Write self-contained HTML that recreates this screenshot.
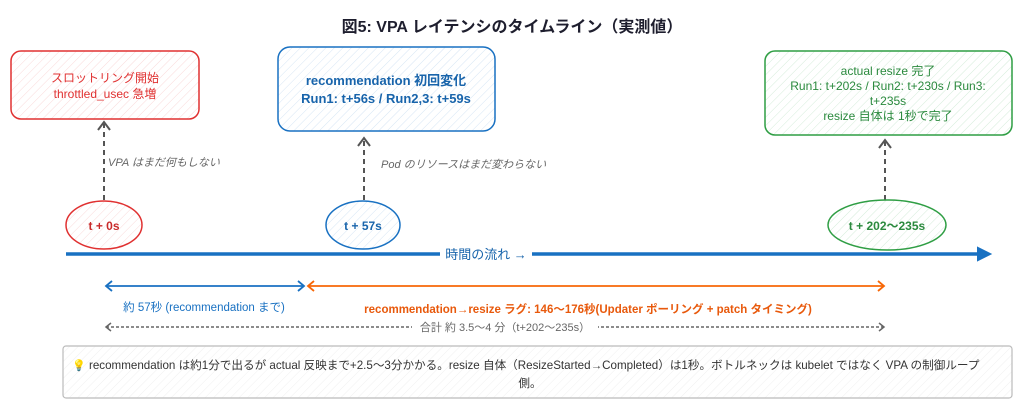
<!DOCTYPE html>
<html><head><meta charset="utf-8"><style>
body{margin:0;background:#fff;}
svg{display:block;font-family:"Liberation Sans","Noto Sans CJK JP",sans-serif;}
</style></head><body>
<svg width="1024" height="408" viewBox="0 0 1024 408" xmlns="http://www.w3.org/2000/svg">
<defs>
<pattern id="hr" width="6" height="6" patternUnits="userSpaceOnUse" patternTransform="rotate(45)"><line x1="0" y1="0" x2="0" y2="6" stroke="#e03131" stroke-opacity="0.18" stroke-width="1"/></pattern>
<pattern id="hb" width="6" height="6" patternUnits="userSpaceOnUse" patternTransform="rotate(45)"><line x1="0" y1="0" x2="0" y2="6" stroke="#1971c2" stroke-opacity="0.18" stroke-width="1"/></pattern>
<pattern id="hg" width="6" height="6" patternUnits="userSpaceOnUse" patternTransform="rotate(45)"><line x1="0" y1="0" x2="0" y2="6" stroke="#2f9e44" stroke-opacity="0.2" stroke-width="1"/></pattern>
<pattern id="hy" width="6" height="6" patternUnits="userSpaceOnUse" patternTransform="rotate(45)"><line x1="0" y1="0" x2="0" y2="6" stroke="#999" stroke-opacity="0.15" stroke-width="1"/></pattern>
</defs>
<text x="512" y="32" text-anchor="middle" font-size="16" font-weight="bold" fill="#1e1e2e">図5: VPA レイテンシのタイムライン（実測値）</text>

<rect x="11" y="51" width="188" height="68" rx="10" fill="url(#hr)" stroke="#e03131" stroke-width="1.5"/>
<text x="105" y="82" text-anchor="middle" font-size="12" fill="#e03131">スロットリング開始</text>
<text x="105" y="98" text-anchor="middle" font-size="12" fill="#e03131">throttled_usec 急増</text>

<rect x="278" y="47" width="217" height="84" rx="12" fill="url(#hb)" stroke="#1971c2" stroke-width="1.5"/>
<text x="386" y="85" text-anchor="middle" font-size="13" font-weight="bold" fill="#1864ab">recommendation 初回変化</text>
<text x="386" y="103" text-anchor="middle" font-size="13" font-weight="bold" fill="#1864ab">Run1: t+56s / Run2,3: t+59s</text>

<rect x="765" y="51" width="247" height="84" rx="10" fill="url(#hg)" stroke="#2f9e44" stroke-width="1.5"/>
<g font-size="12" fill="#2b8a3e" text-anchor="middle">
<text x="888" y="75">actual resize 完了</text>
<text x="888" y="90">Run1: t+202s / Run2: t+230s / Run3:</text>
<text x="888" y="105">t+235s</text>
<text x="888" y="120">resize 自体は 1秒で完了</text>
</g>

<g stroke="#555" stroke-width="2" stroke-dasharray="5,4" fill="none">
<line x1="104" y1="200" x2="104" y2="124"/>
<line x1="364" y1="200" x2="364" y2="140"/>
<line x1="885" y1="200" x2="885" y2="142"/>
</g>
<g stroke="#555" stroke-width="2" fill="none">
<polyline points="98,130 104,122 110,130"/>
<polyline points="358,146 364,138 370,146"/>
<polyline points="879,148 885,140 891,148"/>
</g>
<text x="108" y="166" font-size="11" font-style="italic" fill="#666">VPA はまだ何もしない</text>
<text x="381" y="168" font-size="11" font-style="italic" fill="#666">Pod のリソースはまだ変わらない</text>

<ellipse cx="104" cy="225" rx="38" ry="24" fill="url(#hr)" stroke="#e03131" stroke-width="1.5"/>
<text x="104" y="230" text-anchor="middle" font-size="12" font-weight="bold" fill="#c92a2a">t + 0s</text>
<ellipse cx="363" cy="225" rx="37" ry="24" fill="url(#hb)" stroke="#1971c2" stroke-width="1.5"/>
<text x="363" y="230" text-anchor="middle" font-size="12" font-weight="bold" fill="#1864ab">t + 57s</text>
<ellipse cx="887" cy="225" rx="59" ry="25" fill="url(#hg)" stroke="#2f9e44" stroke-width="1.5"/>
<text x="887" y="230" text-anchor="middle" font-size="12" font-weight="bold" fill="#2b8a3e">t + 202〜235s</text>

<line x1="66" y1="254" x2="982" y2="254" stroke="#1971c2" stroke-width="3.5"/>
<polygon points="978,248 990,254 978,260" fill="#1971c2" stroke="#1971c2" stroke-width="2"/>
<rect x="440" y="245" width="92" height="18" fill="#fff"/>
<text x="486" y="259" text-anchor="middle" font-size="13" fill="#1864ab">時間の流れ →</text>

<g stroke="#1971c2" stroke-width="1.8" fill="none">
<line x1="106" y1="286" x2="304" y2="286"/>
<polyline points="112,281 106,286 112,291"/><polyline points="298,281 304,286 298,291"/>
</g>
<g stroke="#f76707" stroke-width="1.8" fill="none">
<line x1="308" y1="286" x2="884" y2="286"/>
<polyline points="314,281 308,286 314,291"/><polyline points="878,281 884,286 878,291"/>
</g>
<text x="204" y="311" text-anchor="middle" font-size="11.5" fill="#1971c2">約 57秒 (recommendation まで)</text>
<text x="588" y="313" text-anchor="middle" font-size="11.5" font-weight="bold" fill="#e8590c">recommendation→resize ラグ: 146〜176秒(Updater ポーリング + patch タイミング)</text>

<g stroke="#666" stroke-width="1.5" fill="none">
<line x1="106" y1="327" x2="884" y2="327" stroke-dasharray="3,2"/>
<polyline points="111,323 106,327 111,331"/><polyline points="879,323 884,327 879,331"/>
</g>
<rect x="412" y="319" width="186" height="16" fill="#fff"/>
<text x="505" y="331" text-anchor="middle" font-size="11" fill="#666">合計 約 3.5〜4 分（t+202〜235s）</text>

<rect x="63" y="346" width="949" height="52" rx="3" fill="url(#hy)" stroke="#bbb" stroke-width="1.2"/>
<text x="72" y="369" font-size="11" fill="#f0c040">💡</text>
<text x="89" y="369" font-size="11.6" fill="#333">recommendation は約1分で出るが actual 反映まで+2.5〜3分かかる。resize 自体（ResizeStarted→Completed）は1秒。ボトルネックは kubelet ではなく VPA の制御ループ</text>
<text x="530" y="387" text-anchor="middle" font-size="11.6" fill="#333">側。</text>
</svg>
</body></html>
